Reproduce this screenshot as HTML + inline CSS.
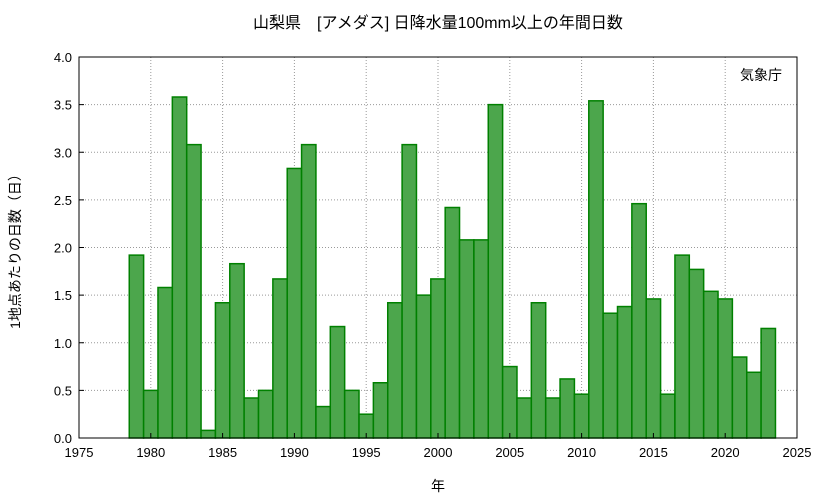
<!DOCTYPE html>
<html><head><meta charset="utf-8">
<style>
html,body{margin:0;padding:0;background:#fff;}
svg{display:block;font-family:"Liberation Sans","Noto Sans CJK JP",sans-serif;}
</style></head>
<body>
<svg id="chart" width="833" height="498" viewBox="0 0 833 498" xmlns="http://www.w3.org/2000/svg">
<text x="438" y="28" text-anchor="middle" font-size="16" fill="#000">山梨県　[アメダス] 日降水量100mm以上の年間日数</text>
<text x="782" y="80" text-anchor="end" font-size="14" fill="#000">気象庁</text>
<text x="438" y="491" text-anchor="middle" font-size="14" fill="#000">年</text>
<text transform="translate(20,248) rotate(-90)" text-anchor="middle" font-size="14" fill="#000">1地点あたりの日数（日）</text>
<g id="grid"></g>
<g id="bars"></g>
<rect x="79" y="57" width="718" height="381" fill="none" stroke="#000" stroke-width="1"/>
<g id="axes"></g>
</svg>
<script>
const years = [1979,1980,1981,1982,1983,1984,1985,1986,1987,1988,1989,1990,1991,1992,1993,1994,1995,1996,1997,1998,1999,2000,2001,2002,2003,2004,2005,2006,2007,2008,2009,2010,2011,2012,2013,2014,2015,2016,2017,2018,2019,2020,2021,2022,2023];
const values = [1.92,0.50,1.58,3.58,3.08,0.08,1.42,1.83,0.42,0.50,1.67,2.83,3.08,0.33,1.17,0.50,0.25,0.58,1.42,3.08,1.50,1.67,2.42,2.08,2.08,3.50,0.75,0.42,1.42,0.42,0.62,0.46,3.54,1.31,1.38,2.46,1.46,0.46,1.92,1.77,1.54,1.46,0.85,0.69,1.15];
const xTicks = [1975,1980,1985,1990,1995,2000,2005,2010,2015,2020,2025];
const yTicks = [0,0.5,1,1.5,2,2.5,3,3.5,4];
const yTickLabels = ["0.0","0.5","1.0","1.5","2.0","2.5","3.0","3.5","4.0"];

const NS="http://www.w3.org/2000/svg";
const L=79,R=797,T=57,B=438;
const xs=v=>L+(v-1975)/(2025-1975)*(R-L);
const ys=v=>B-v/4*(B-T);
function mk(tag,attrs,parent){const e=document.createElementNS(NS,tag);for(const k in attrs)e.setAttribute(k,attrs[k]);parent.appendChild(e);return e;}
const grid=document.getElementById('grid'),bars=document.getElementById('bars'),axes=document.getElementById('axes');
xTicks.forEach(t=>{
  const x=xs(t);
  if(t>1975&&t<2025){const g=mk('line',{x1:x,x2:x,y1:T,y2:B,stroke:'#999','stroke-dasharray':'1,2'},grid);
  
  }
  const tk=mk('line',{x1:x,x2:x,y1:B,y2:B-5,stroke:'#000'},axes);
  
  
  const lb=mk('text',{x:x,y:B+19,'text-anchor':'middle','font-size':'13'},axes);
  
  
  lb.textContent=t;
});
yTicks.forEach((t,i)=>{
  const y=ys(t);
  if(t>0&&t<4){const g=mk('line',{x1:L,x2:R,y1:y,y2:y,stroke:'#999','stroke-dasharray':'1,2'},grid);
  
  }
  const tk=mk('line',{x1:L,x2:L+5,y1:y,y2:y,stroke:'#000'},axes);
  
  
  const lb=mk('text',{x:L-7,y:y+5,'text-anchor':'end','font-size':'13'},axes);
  
  
  lb.textContent=yTickLabels[i];
});
years.forEach((yr,i)=>{
  const x0=xs(yr-0.5),x1=xs(yr+0.5),y=ys(values[i]);
  const r=mk('rect',{x:x0,y:y,width:x1-x0,height:B-y,fill:'#4ca64c',stroke:'#008000','stroke-width':'1.5'},bars);
  
  
});
</script>
</body></html>
